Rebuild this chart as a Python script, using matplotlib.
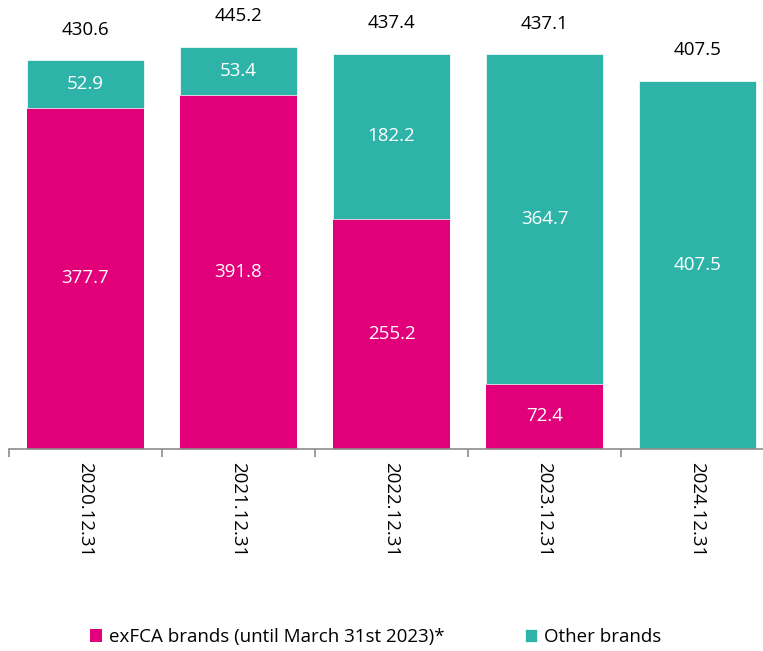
import numpy as np
import matplotlib.pyplot as plt
from matplotlib.ticker import FixedLocator

plt.rcParams['font.family'] = ['Open Sans', 'DejaVu Sans']

categories = ['2020.12.31', '2021.12.31', '2022.12.31', '2023.12.31', '2024.12.31']
exfca = [377.7, 391.8, 255.2, 72.4, 0.0]
other = [52.9, 53.4, 182.2, 364.7, 407.5]
totals = [430.6, 445.2, 437.4, 437.1, 407.5]

col_exfca = '#E2007A'
col_other = '#2DB3A8'

fig = plt.figure(figsize=(7.63, 6.51), dpi=100)
ax = fig.add_axes([9 / 763, 1 - 449 / 651, 765 / 763, 449 / 651])

x = np.arange(len(categories))
w = 0.765
b1 = ax.bar(x, exfca, w, color=col_exfca, label='exFCA brands (until March 31st 2023)*')
b2 = ax.bar(x, other, w, bottom=exfca, color=col_other, label='Other brands',
            edgecolor='white', linewidth=0.5)

# value labels inside the segments, totals above
for i in range(len(x)):
    if exfca[i] > 0:
        ax.text(x[i], exfca[i] / 2, f'{exfca[i]:.1f}', ha='center', va='center',
                color='white', fontsize=13.5)
    ax.text(x[i], exfca[i] + other[i] / 2, f'{other[i]:.1f}', ha='center', va='center',
            color='white', fontsize=13.5)
    ax.annotate(f'{totals[i]:.1f}', (x[i], totals[i]), xytext=(0, 22), textcoords='offset points',
                ha='center', va='center', fontsize=13.5, color='black')

ax.set_xlim(-0.5, len(categories) - 0.5)
ax.set_ylim(0, 449 / 0.903)

for s in ['top', 'right', 'left']:
    ax.spines[s].set_visible(False)
ax.spines['bottom'].set_color('#8c8c8c')
ax.spines['bottom'].set_linewidth(1.2)
ax.set_yticks([])

ax.set_xticks(x)
ax.set_xticklabels(categories, rotation=270, fontsize=13.5)
ax.tick_params(axis='x', which='major', length=0, pad=9)
ax.xaxis.set_minor_locator(FixedLocator(np.arange(-0.5, len(categories), 1.0)))
ax.tick_params(axis='x', which='minor', length=6, color='#8c8c8c', width=1.2)

fig.legend(handles=[b1, b2], loc='center', bbox_to_anchor=(0.492, 1 - 637 / 651), ncol=2,
           frameon=False, fontsize=13.5, handlelength=0.65, handleheight=0.65,
           handletextpad=0.35, columnspacing=4.3)

fig.savefig('out.png', dpi=100)
